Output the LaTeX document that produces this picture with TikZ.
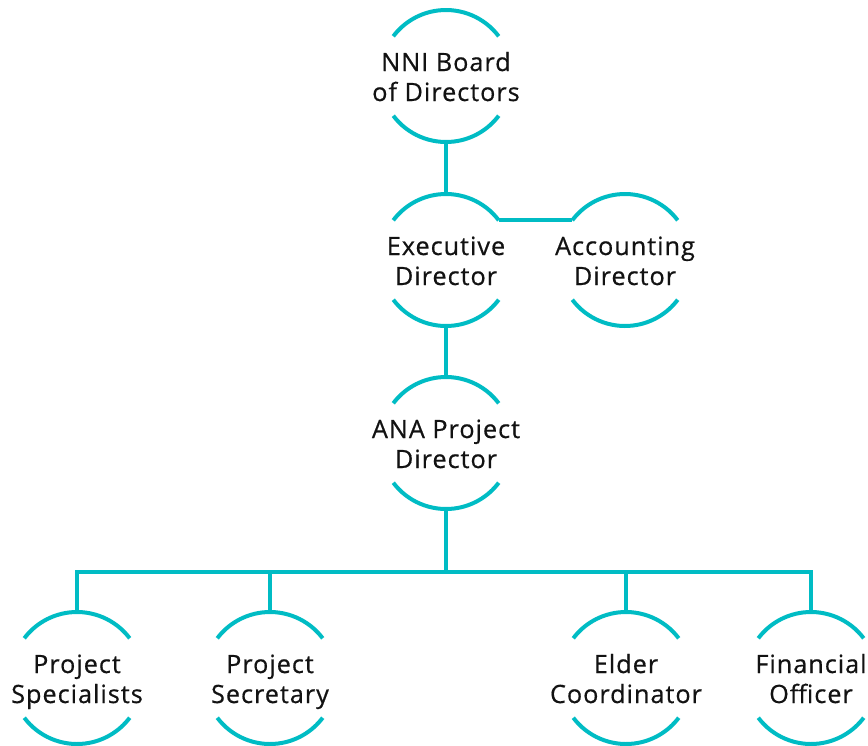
\documentclass[tikz,border=0pt]{standalone}
\usepackage{fontspec}
\setmainfont{Open Sans}
\newfontfamily\orgfont{Open Sans}[FakeBold=0.6,LetterSpace=4]
\definecolor{orgteal}{RGB}{0,188,196}
\begin{document}
\begin{tikzpicture}[x=1pt,y=1pt,
  orgcircle/.style={circle,minimum size=132pt,inner sep=0pt,outer sep=0pt},
  orgtext/.style={align=center,inner sep=0pt,text height=56pt,text depth=6pt,
    font=\orgfont\fontsize{25.2}{30}\selectfont,text=black!93},
  orgline/.style={draw=orgteal,line width=4pt}]
\useasboundingbox (0,0) rectangle (868,-745);
\newcommand\orgarcs[1]{%
  \draw[orgline] (#1.37) arc[start angle=37,end angle=143,radius=66pt];
  \draw[orgline] (#1.217) arc[start angle=217,end angle=323,radius=66pt];}
\node[orgcircle] (nni) at (446,-76) {};
\node[orgcircle] (exec) at (446,-260) {};
\node[orgcircle] (acct) at (625,-260) {};
\node[orgcircle] (ana) at (446,-443) {};
\node[orgcircle] (ps) at (77,-678) {};
\node[orgcircle] (sec) at (270,-678) {};
\node[orgcircle] (eld) at (626,-678) {};
\node[orgcircle] (fo) at (811,-678) {};
\coordinate (bus) at (446,-572);
\foreach \n in {nni,exec,acct,ana,ps,sec,eld,fo}{\orgarcs{\n}}
\node[orgtext] (tnni) at (nni) {NNI Board\\of Directors};
\node[orgtext] (texec) at (exec) {Executive\\Director};
\node[orgtext] (tacct) at (acct) {Accounting\\Director};
\node[orgtext] (tana) at (ana) {ANA Project\\Director};
\node[orgtext] (tps) at (ps) {Project\\Specialists};
\node[orgtext] (tsec) at (sec) {Project\\Secretary};
\node[orgtext] (teld) at (eld) {Elder\\Coordinator};
\node[orgtext] (tfo) at (fo) {Financial\\Officer};
\draw[orgline] (nni.south) -- (exec.north);
\draw[orgline] (exec.37) -- (acct.143);
\draw[orgline] (exec.south) -- (ana.north);
\draw[orgline] (ana.south) -- (bus);
\draw[orgline] (ps.north) -- (ps.north |- bus) -- (fo.north |- bus) -- (fo.north);
\draw[orgline] (sec.north) -- (sec.north |- bus);
\draw[orgline] (eld.north) -- (eld.north |- bus);
\end{tikzpicture}
\end{document}
